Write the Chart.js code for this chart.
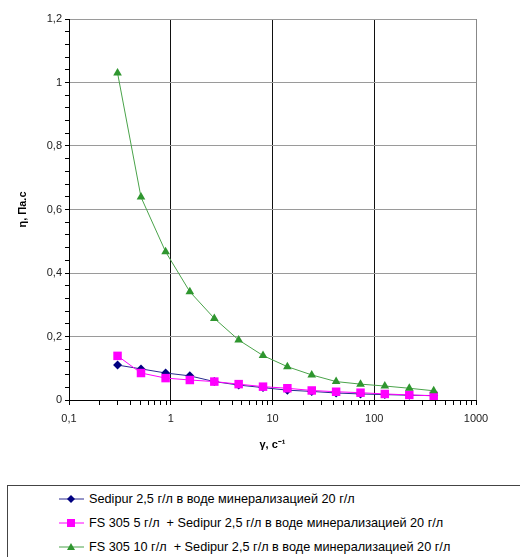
<!DOCTYPE html>
<html>
<head>
<meta charset="utf-8">
<script src="https://cdn.jsdelivr.net/npm/chart.js@4"></script>
<style>
  body { margin: 0; background: #fff; font-family: "Liberation Sans", Arial, sans-serif; }
  #wrap { position: relative; width: 520px; height: 557px; overflow: hidden; }
  #chart { position: absolute; left: 0; top: 0; }
  #legend {
    position: absolute; left: 7px; top: 485px; width: 530px; height: 90px;
    border: 1px solid #444; box-sizing: border-box;
  }
  .row { position: absolute; left: 51px; height: 20px; display: flex; align-items: center; font-size: 12.7px; color: #000; white-space: pre; }
  .row svg { margin-right: 5px; }
</style>
</head>
<body>
<div id="wrap">
  <canvas id="chart" width="520" height="480"></canvas>
  <div id="legend"></div>
</div>
<script>
// Скорость сдвига, с^-1
const shearRate = [0.3, 0.51, 0.89, 1.54, 2.68, 4.65, 8.07, 14, 24.3, 42.2, 73.3, 127, 221, 384];

// Вязкость, Па.с
const sedipur = [0.110, 0.098, 0.085, 0.076, 0.058, 0.047, 0.039, 0.031, 0.027, 0.022, 0.019, 0.017, 0.015, 0.014];
const fs5 = [0.139, 0.085, 0.069, 0.063, 0.058, 0.050, 0.042, 0.037, 0.030, 0.026, 0.023, 0.019, 0.016, 0.013];
const fs10 = [1.03, 0.639, 0.467, 0.341, 0.257, 0.189, 0.140, 0.105, 0.079, 0.058, 0.050, 0.044, 0.037, 0.029];

const seriesNames = [
  "Sedipur 2,5 г/л в воде минерализацией 20 г/л",
  "FS 305 5 г/л  + Sedipur 2,5 г/л в воде минерализацией 20 г/л",
  "FS 305 10 г/л  + Sedipur 2,5 г/л в воде минерализацией 20 г/л"
];

// Подписи осей
const xMajorTicks = [0.1, 1, 10, 100, 1000];
const yMajorTicks = [0, 0.2, 0.4, 0.6, 0.8, 1, 1.2];

const fmt = v => String(+v.toFixed(2)).replace(".", ",");

function toPoints(values) {
  return shearRate.map((x, i) => ({ x, y: values[i] }));
}

const styles = [
  { line: "#2a2a90", point: "#000080", shape: "rectRot", radius: 4.5 },
  { line: "#ff00ff", point: "#ff00ff", shape: "rect", radius: 6 },
  { line: "#4aa34a", point: "#2f962f", shape: "triangle", radius: 5 }
];

const datasets = [sedipur, fs5, fs10].map((vals, i) => ({
  label: seriesNames[i],
  data: toPoints(vals),
  borderColor: styles[i].line,
  borderWidth: 1,
  backgroundColor: styles[i].point,
  pointBackgroundColor: styles[i].point,
  pointBorderColor: styles[i].point,
  pointBorderWidth: 0,
  pointStyle: styles[i].shape,
  pointRadius: styles[i].radius,
  tension: 0,
  order: 3 - i
}));

// Тики лог. оси: 0.1 ... 1000 с промежуточными
const xTicks = [];
for (let d = 0.1; d < 1000; d *= 10) {
  for (let m = 1; m <= 9; m++) xTicks.push(+(m * d).toPrecision(3));
}
xTicks.push(1000);

const yTicks = [];
for (let k = 0; k <= 30; k++) yTicks.push(k / 25);

const isMajorX = v => xMajorTicks.some(t => Math.abs(t - v) / t < 1e-6);
const isMajorY = v => yMajorTicks.some(t => Math.abs(t - v) < 1e-6);

new Chart(document.getElementById("chart"), {
  type: "line",
  data: { datasets },
  options: {
    responsive: false,
    animation: false,
    layout: { padding: { left: 0, top: 19, right: 44, bottom: 0 } },
    plugins: { legend: { display: false }, tooltip: { enabled: false } },
    scales: {
      x: {
        type: "logarithmic",
        min: 0.1,
        max: 1000,
        afterBuildTicks: s => { s.ticks = xTicks.map(value => ({ value })); },
        afterFit: s => { s.height = 80; },
        border: { color: "#000", width: 1 },
        grid: {
          color: c => {
            const v = c.tick ? c.tick.value : 0;
            if (v === 1000) return "#888";
            if (v > 0.5 && isMajorX(v)) return "#111";
            return "rgba(0,0,0,0)";
          },
          tickColor: "#000",
          tickLength: 5
        },
        ticks: {
          autoSkip: false,
          maxRotation: 0,
          padding: 7,
          color: "#222",
          font: { family: "Liberation Sans, Arial", size: 11 },
          callback: v => isMajorX(v) ? fmt(v) : ""
        },
        title: {
          display: true,
          text: "γ, с⁻¹",
          color: "#000",
          font: { family: "Liberation Sans, Arial", size: 11, weight: "bold" },
          padding: { top: 0, bottom: 28 }
        }
      },
      y: {
        min: 0,
        max: 1.2,
        afterBuildTicks: s => { s.ticks = yTicks.map(value => ({ value })); },
        afterFit: s => { s.width = 69; },
        border: { color: "#000", width: 1 },
        grid: {
          color: c => {
            const v = c.tick ? c.tick.value : 0;
            if (v > 0.01 && isMajorY(v)) return "#9a9a9a";
            return "rgba(0,0,0,0)";
          },
          tickColor: "#000",
          tickLength: 4
        },
        ticks: {
          autoSkip: false,
          padding: 3,
          color: "#222",
          font: { family: "Liberation Sans, Arial", size: 11 },
          callback: v => isMajorY(v) ? fmt(v) : ""
        },
        title: {
          display: true,
          text: "η, Па.с",
          color: "#000",
          font: { family: "Liberation Sans, Arial", size: 11, weight: "bold" },
          padding: { top: 16, bottom: 0 }
        }
      }
    }
  }
});

// Легенда
function markerSvg(st) {
  let shape = "";
  if (st.shape === "rectRot") shape = `<polygon points="12,3 16,7 12,11 8,7" fill="${st.point}"/>`;
  if (st.shape === "rect") shape = `<rect x="8" y="3" width="8" height="8" fill="${st.point}"/>`;
  if (st.shape === "triangle") shape = `<polygon points="12,3 16,10 8,10" fill="${st.point}"/>`;
  return `<svg width="25" height="14"><line x1="0" y1="7" x2="25" y2="7" stroke="${st.line}" stroke-width="1"/>${shape}</svg>`;
}

const legend = document.getElementById("legend");
seriesNames.forEach((name, i) => {
  const row = document.createElement("div");
  row.className = "row";
  row.style.top = (2.5 + i * 24.4) + "px";
  row.innerHTML = markerSvg(styles[i]) + "<span></span>";
  row.querySelector("span").textContent = name;
  legend.appendChild(row);
});
</script>
</body>
</html>
